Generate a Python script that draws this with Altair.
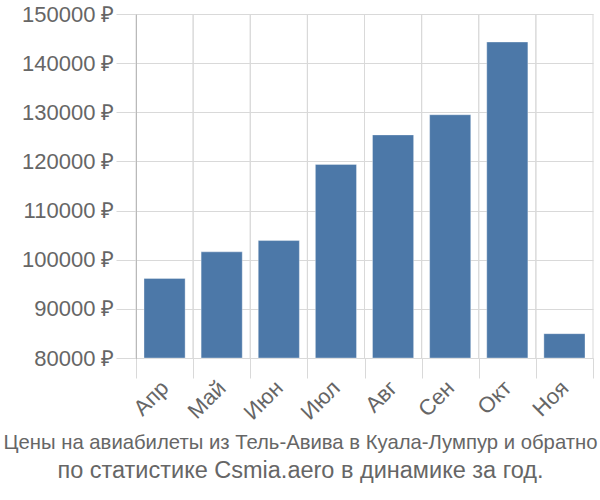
import altair as alt
import pandas as pd

months = ["Апр", "Май", "Июн", "Июл", "Авг", "Сен", "Окт", "Ноя"]
prices = [96200, 101600, 103900, 119400, 125400, 129500, 144300, 84950]
y_ticks = [80000, 90000, 100000, 110000, 120000, 130000, 140000, 150000]
title_line1 = "Цены на авиабилеты из Тель-Авива в Куала-Лумпур и обратно"
title_line2 = "по статистике Csmia.aero в динамике за год."

df = pd.DataFrame({"month": months, "price": prices})

FONT = "Liberation Sans"
GREY = "#666666"
GRID = "#d9d9d9"

x_scale = alt.Scale(paddingInner=0, paddingOuter=0)

grid_start = alt.Chart(df).mark_rule(color=GRID, strokeWidth=1).encode(
    x=alt.X("month:N", sort=months, scale=x_scale, bandPosition=0, title=None),
    y=alt.value(0), y2=alt.value(344),
)
grid_end = alt.Chart(df).mark_rule(color=GRID, strokeWidth=1).encode(
    x=alt.X("month:N", sort=months, scale=x_scale, bandPosition=1, title=None),
    y=alt.value(0), y2=alt.value(344),
)

bars = alt.Chart(df).mark_bar(
    color="#4c78a8", stroke="#ffffff", strokeOpacity=0.35, strokeWidth=1,
    width=alt.RelativeBandSize(0.72),
).encode(
    x=alt.X("month:N", sort=months, title=None, scale=x_scale,
            axis=alt.Axis(labelAngle=-45, labelAlign="right", labelBaseline="middle",
                          labelFontSize=22, labelColor=GREY, labelFont=FONT,
                          tickBand="extent", ticks=True, tickSize=20, tickColor=GRID,
                          domainColor=GRID, grid=False,
                          labelPadding=6, labelBound=False)),
    y=alt.Y("price:Q", title=None,
            scale=alt.Scale(domain=[80000, 150000], zero=False, nice=False),
            axis=alt.Axis(values=y_ticks, labelExpr="datum.value + ' ₽'",
                          labelFontSize=22, labelColor=GREY, labelFont=FONT,
                          tickSize=20, tickColor=GRID, domainColor="#999999",
                          gridColor=GRID, labelPadding=2)),
    y2=alt.datum(80000),
)

chart = alt.layer(grid_start, grid_end, bars).properties(
    width=457, height=344,
    autosize=alt.AutoSizeParams(type="none"),
    padding={"left": 136, "top": 14, "right": 7, "bottom": 142},
    title=alt.TitleParams(
        text=title_line1, subtitle=title_line2, orient="bottom", anchor="middle",
        dx=-64, fontSize=20.3, subtitleFontSize=23.5, font=FONT, subtitleFont=FONT,
        color=GREY, subtitleColor=GREY, fontWeight="normal", offset=10,
        subtitlePadding=5,
    ),
).configure_view(stroke=None)

chart.save("out.html", embed_options={"renderer": "svg", "actions": False})
